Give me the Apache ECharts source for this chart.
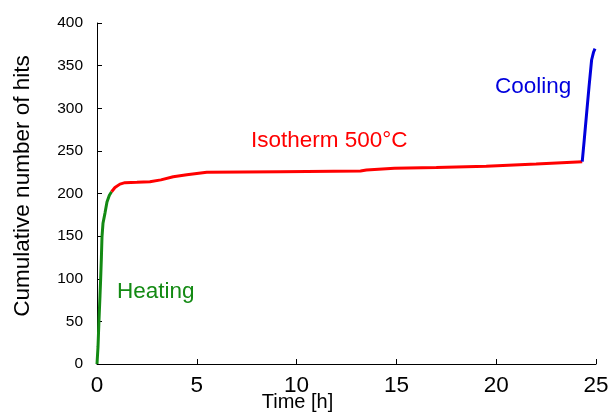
<!DOCTYPE html>
<html><head><meta charset="utf-8">
<script src="https://cdn.jsdelivr.net/npm/echarts@6/dist/echarts.min.js"></script>
<style>html,body{margin:0;padding:0;background:#fff}#c{width:609px;height:414px}</style>
</head><body><div id="c"></div>
<script>
const heating = [[0,0],[0.05,20],[0.1,52],[0.15,80],[0.18,98],[0.22,125],[0.25,149],[0.3,165],[0.4,177],[0.5,190],[0.62,198],[0.73,202]];
const isotherm = [[0.73,202],[0.9,207],[1.15,211],[1.4,212.7],[2.0,213.2],[2.65,213.8],[3.2,216],[3.82,219.7],[4.5,222],[5.5,224.9],[9.17,225.6],[13.2,226.4],[13.5,227.5],[14.9,229.5],[17,230.5],[19.5,232],[19.6,233],[22,234.5],[24.31,237.3]];
const cooling = [[24.31,237.3],[24.41,262.7],[24.53,294],[24.65,325],[24.78,356.6],[24.88,366],[24.95,370]];
const xTicks = [0,5,10,15,20,25];
const yTicks = [0,50,100,150,200,250,300,350,400];
const labels = [
  {text:'Heating', color:'#138a13', x:117, y:292},
  {text:'Isotherm 500°C', color:'#ff0000', x:251, y:141},
  {text:'Cooling', color:'#0000dd', x:495, y:87}
];
const chart = echarts.init(document.getElementById('c'));
const ff = '"Liberation Sans", Arial, sans-serif';
function ser(data,color){return {type:'line',data:data,showSymbol:false,symbol:'none',lineStyle:{color:color,width:3},itemStyle:{color:color},animation:false};}
chart.setOption({
  animation:false,
  grid:{left:97,right:13,top:23,bottom:50,containLabel:false,outerBoundsMode:'none'},
  xAxis:{type:'value',min:xTicks[0],max:xTicks[xTicks.length-1],interval:5,
    name:'Time [h]',nameLocation:'middle',nameGap:28,nameMoveOverlap:false,
    nameTextStyle:{fontFamily:ff,fontSize:20,color:'#000',padding:[0,98,0,0]},
    axisLine:{lineStyle:{color:'#000',width:1}},
    axisTick:{inside:true,length:5,lineStyle:{color:'#000'}},
    axisLabel:{fontFamily:ff,fontSize:22.5,color:'#000',margin:10},
    splitLine:{show:false}},
  yAxis:{type:'value',min:yTicks[0],max:yTicks[yTicks.length-1],interval:50,
    name:'Cumulative number of hits',nameLocation:'middle',nameGap:63,nameMoveOverlap:false,
    nameTextStyle:{fontFamily:ff,fontSize:22.5,color:'#000',padding:[0,0,0,15]},
    axisLine:{show:true,lineStyle:{color:'#000',width:1}},
    axisTick:{show:true,inside:true,length:5,lineStyle:{color:'#000'}},
    axisLabel:{fontFamily:ff,fontSize:15.5,color:'#000',margin:14},
    splitLine:{show:false}},
  series:[ser(heating,'#138a13'),ser(isotherm,'#ff0000'),ser(cooling,'#0000dd')],
  graphic:labels.map(l=>({type:'text',x:l.x,y:l.y,style:{text:l.text,fill:l.color,font:'22.5px '+ff,align:'left',verticalAlign:'middle'}}))
});
</script></body></html>
